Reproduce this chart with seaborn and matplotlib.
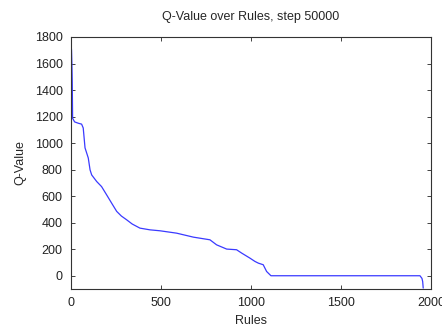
import matplotlib
matplotlib.use("Agg")
import matplotlib.pyplot as plt
import seaborn as sns
import pandas as pd

# values (rule index -> Q-value)
rules = [0, 3, 5, 7, 9, 12, 20, 40, 59, 68, 78, 96, 106, 115, 143, 170, 198,
         226, 254, 280, 309, 340, 383, 439, 494, 587, 680, 772, 809, 865,
         920, 948, 994, 1022, 1041, 1068, 1087, 1111, 1500, 1939, 1950,
         1954, 1957]
q_values = [1755, 1700, 1600, 1463, 1187, 1180, 1160, 1150, 1143, 1114, 964,
            888, 798, 760, 710, 672, 610, 547, 485, 450, 422, 390, 359, 346,
            339, 321, 291, 271, 233, 201, 196, 171, 133, 108, 95, 83, 32, 0,
            0, 0, -20, -43, -93]

x_ticks = [0, 500, 1000, 1500, 2000]
y_ticks = [0, 200, 400, 600, 800, 1000, 1200, 1400, 1600, 1800]

df = pd.DataFrame({"Rules": rules, "Q-Value": q_values})

sns.set_style("ticks")
plt.rcParams["font.family"] = ["Liberation Sans", "DejaVu Sans"]

fig = plt.figure(figsize=(4.42, 3.35), dpi=100)
ax = fig.add_axes([0.1606, 0.1373, 0.8144, 0.7523])

sns.lineplot(data=df, x="Rules", y="Q-Value", color="#3a3aff", linewidth=0.9, ax=ax)

ax.set_xlim(0, 2000)
ax.set_ylim(-100, 1800)
ax.set_xticks(x_ticks)
ax.set_yticks(y_ticks)
ax.tick_params(direction="in", top=True, right=True, length=3, width=0.6,
               labelsize=9, colors="#222222", pad=6)
for s in ax.spines.values():
    s.set_linewidth(0.8)
    s.set_color("#333333")

ax.set_title("Q-Value over Rules, step 50000", fontsize=9, pad=12)
ax.set_xlabel("Rules", fontsize=9, labelpad=4)
ax.set_ylabel("Q-Value", fontsize=9, labelpad=6)

fig.savefig("out.png", dpi=100)
